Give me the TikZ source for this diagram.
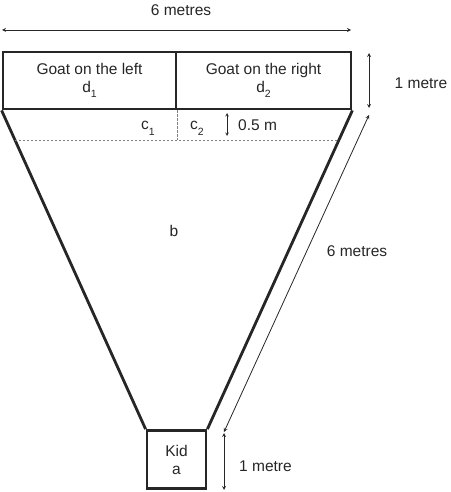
\documentclass[tikz,border=0pt]{standalone}
\usepackage{fontspec}
\setmainfont{Liberation Sans}
\usetikzlibrary{calc}
\tikzset{>=stealth}
\tikzset{
    pen/.style={line width=2.8pt, draw=black!85},
    box/.style={pen, inner sep=0pt, align=center, minimum height=57pt, font=\fontsize{15.5}{18}\selectfont},
    dim/.style={<->, line width=0.8pt, black!85},
    guide/.style={dash pattern=on 2.5pt off 1.5pt, gray, line width=0.7pt},
    lbl/.style={font=\fontsize{15.5}{18}\selectfont, inner sep=0pt, text=black!85},
}
\newcommand{\lowsub}[1]{\raisebox{-0.7ex}{\fontsize{10.5}{10}\selectfont #1}}

\begin{document}
\begin{tikzpicture}[x=1pt, y=-1pt]
    \useasboundingbox (0,0) rectangle (450,492);
    % the two goats on top
    \node[box, text=black!85, minimum width=173pt] (goatleft) at (89.5,80.5) {Goat on the left\\d\lowsub{1}};
    \node[box, text=black!85, minimum width=175pt] (goatright) at (263.5,80.5) {Goat on the right\\d\lowsub{2}};
    % the kid at the bottom
    \node[box, text=black!85, minimum width=59pt, minimum height=58pt] (kid) at (176.5,459.5) {Kid\\a};
    % sides of the field
    \draw[pen] (goatleft.south west) -- (kid.north west);
    \draw[pen] (goatright.south east) -- (kid.north east);
    % half metre strip
    \coordinate (stripl) at ($(goatleft.south west)!0.093!(kid.north west)$);
    \coordinate (stripr) at ($(goatright.south east)!0.093!(kid.north east)$);
    \draw[guide] (stripl) -- (stripr);
    \draw[guide] (goatleft.south east) -- (goatleft.south east |- stripl);
    \node[lbl] (cone) at (148,128) {c\lowsub{1}};
    \node[lbl] (ctwo) at (197,128) {c\lowsub{2}};
    \coordinate (halftop) at (227,113);
    \coordinate (halfbot) at (227,136);
    \draw[<->, line width=0.6pt, black!85] (halftop) -- (halfbot);
    \node[lbl, anchor=west] (half) at (238,125) {0.5 m};
    \node[lbl] (b) at (174,231) {b};
    % dimensions
    \coordinate (topl) at (2,30);
    \coordinate (topr) at (351,30);
    \draw[dim] (topl) -- (topr);
    \node[lbl] (width) at (181,10) {6 metres};
    \coordinate (rtop) at (369,53);
    \coordinate (rbot) at (369,108);
    \draw[dim] (rtop) -- (rbot);
    \node[lbl] (height) at (421,83) {1 metre};
    \coordinate (slanttop) at (369,115);
    \coordinate (slantbot) at (224,432);
    \draw[dim] (slanttop) -- (slantbot);
    \node[lbl] (length) at (357,251) {6 metres};
    \coordinate (kidtop) at (224,433);
    \coordinate (kidbot) at (224,490);
    \draw[dim] (kidtop) -- (kidbot);
    \node[lbl] (kidheight) at (265.5,466) {1 metre};
\end{tikzpicture}
\end{document}
